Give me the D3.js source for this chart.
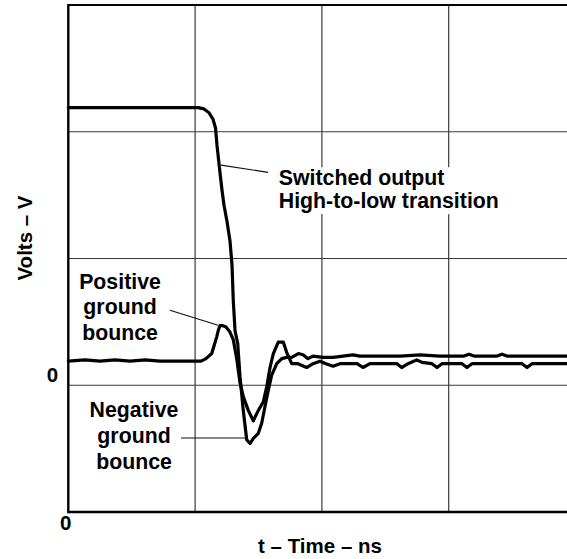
<!DOCTYPE html>
<html>
<head>
<meta charset="utf-8">
<script src="https://cdn.jsdelivr.net/npm/d3@7"></script>
<style>
  html, body { margin: 0; padding: 0; background: #fff; }
  svg { display: block; }
  text { font-family: "Liberation Sans", Arial, Helvetica, sans-serif; font-weight: bold; fill: #000; }
</style>
</head>
<body>
<svg id="chart" width="567" height="559"></svg>
<script>
// ---- data (time in ns, volts) ----
const xTicks = [0];
const yTicks = [0];
const xGrid = [10, 20, 30];
const yGrid = [0, 1, 2];
const xTitle = "t – Time – ns";
const yTitle = "Volts – V";

const switchedT = [0, 10.23, 10.70, 11.10, 11.41, 11.61, 11.73, 11.85, 11.96, 12.12, 12.28, 12.52, 12.75, 12.91, 13.01, 13.15, 13.36, 13.54, 13.80, 14.07, 14.33, 14.59, 14.98, 15.25, 15.51, 15.77, 16.04, 16.44, 16.83, 17.22, 17.62, 18.14, 18.51, 18.90, 19.30, 20.09, 20.88, 22.45, 23.00, 26.16, 27.74, 29.31, 31.21, 31.60, 32.00, 33.81, 34.20, 34.60, 40];
const switchedV = [2.19, 2.19, 2.18, 2.15, 2.10, 2.03, 1.89, 1.78, 1.68, 1.54, 1.42, 1.29, 1.14, 0.95, 0.67, 0.43, 0.33, 0.07, -0.20, -0.43, -0.46, -0.42, -0.38, -0.30, -0.17, -0.04, 0.08, 0.17, 0.21, 0.22, 0.22, 0.25, 0.24, 0.21, 0.23, 0.22, 0.22, 0.24, 0.23, 0.23, 0.24, 0.23, 0.23, 0.245, 0.23, 0.23, 0.245, 0.23, 0.23];

const bounceT = [0, 1.32, 2.50, 3.68, 4.87, 6.05, 7.23, 8.41, 10.47, 10.86, 11.31, 11.49, 11.70, 11.85, 11.96, 12.20, 12.44, 12.75, 13.01, 13.28, 13.54, 13.80, 14.20, 14.59, 14.98, 15.38, 15.65, 15.91, 16.17, 16.56, 16.96, 17.22, 17.62, 18.11, 18.80, 19.30, 19.85, 20.32, 20.88, 21.43, 22.77, 23.24, 23.79, 25.92, 26.29, 26.79, 27.48, 27.89, 28.68, 29.08, 29.47, 31.05, 31.44, 31.84, 35.78, 36.18, 36.57, 40];
const bounceV = [0.19, 0.20, 0.19, 0.20, 0.19, 0.20, 0.19, 0.19, 0.19, 0.21, 0.25, 0.31, 0.38, 0.44, 0.47, 0.47, 0.46, 0.42, 0.36, 0.21, 0.02, -0.09, -0.20, -0.28, -0.20, -0.13, -0.01, 0.14, 0.25, 0.34, 0.34, 0.26, 0.17, 0.17, 0.14, 0.17, 0.19, 0.17, 0.15, 0.17, 0.17, 0.14, 0.17, 0.17, 0.14, 0.17, 0.20, 0.18, 0.17, 0.14, 0.17, 0.17, 0.14, 0.17, 0.17, 0.14, 0.17, 0.17];

const switchedLabel = ["Switched output", "High-to-low transition"];
const positiveLabel = ["Positive", "ground", "bounce"];
const negativeLabel = ["Negative", "ground", "bounce"];

// ---- scales ----
const svg = d3.select("#chart");
const x = d3.scaleLinear().domain([0, 40]).range([68.3, 575.5]);
const y = d3.scaleLinear().domain([-1, 3]).range([512, 5]);

// grid
svg.append("g").selectAll("line").data(xGrid).join("line")
  .attr("x1", d => x(d)).attr("x2", d => x(d))
  .attr("y1", y(3)).attr("y2", y(-1))
  .attr("stroke", "#3a3a3a").attr("stroke-width", 1.2);
svg.append("g").selectAll("line").data(yGrid).join("line")
  .attr("x1", x(0)).attr("x2", x(40))
  .attr("y1", d => y(d)).attr("y2", d => y(d))
  .attr("stroke", "#3a3a3a").attr("stroke-width", 1.2);

// frame: top, left, bottom
const frame = svg.append("g").attr("stroke", "#000").attr("fill", "none");
frame.append("line").attr("x1", x(0)).attr("x2", x(40)).attr("y1", y(3)).attr("y2", y(3)).attr("stroke-width", 2.2);
frame.append("line").attr("x1", x(0)).attr("x2", x(0)).attr("y1", y(3) - 1).attr("y2", y(-1) + 1.2).attr("stroke-width", 2.4);
frame.append("line").attr("x1", x(0)).attr("x2", x(40)).attr("y1", y(-1)).attr("y2", y(-1)).attr("stroke-width", 2.4);

// white box behind switched-output label
svg.append("rect")
  .attr("x", x(16.15)).attr("y", y(1.72))
  .attr("width", x(34.45) - x(16.15)).attr("height", y(1.35) - y(1.72))
  .attr("fill", "#fff");

// leader lines
const leaders = [
  [[12.04, 1.736], [15.75, 1.680]],
  [[8.02, 0.592], [11.81, 0.473]],
  [[8.89, -0.416], [13.94, -0.416]]
];
svg.append("g").selectAll("line").data(leaders).join("line")
  .attr("x1", d => x(d[0][0])).attr("y1", d => y(d[0][1]))
  .attr("x2", d => x(d[1][0])).attr("y2", d => y(d[1][1]))
  .attr("stroke", "#111").attr("stroke-width", 1.2);

// curves
const line = d3.line().x(d => x(d[0])).y(d => y(d[1])).curve(d3.curveLinear);
const switched = switchedT.map((t, i) => [t, switchedV[i]]);
const bounce = bounceT.map((t, i) => [t, bounceV[i]]);
[bounce, switched].forEach(data => {
  svg.append("path").datum(data).attr("d", line)
    .attr("fill", "none").attr("stroke", "#000")
    .attr("stroke-width", 3.2).attr("stroke-linejoin", "round").attr("stroke-linecap", "round");
});

// annotation text
const fs = 20.5;
const fa = 21.3;
const sw = svg.append("text").attr("font-size", fa);
switchedLabel.forEach((s, i) => {
  sw.append("tspan").attr("x", x(16.6)).attr("y", 185 + i * 23).text(s);
});
const pos = svg.append("text").attr("font-size", fa).attr("text-anchor", "middle");
positiveLabel.forEach((s, i) => {
  pos.append("tspan").attr("x", 120).attr("y", 288.5 + i * 25.5).text(s);
});
const neg = svg.append("text").attr("font-size", fa).attr("text-anchor", "middle");
negativeLabel.forEach((s, i) => {
  neg.append("tspan").attr("x", 134).attr("y", 416.5 + i * 26.3).text(s);
});

// tick labels
svg.append("g").selectAll("text").data(yTicks).join("text")
  .attr("font-size", fs).attr("text-anchor", "middle")
  .attr("x", 52.5).attr("y", d => y(d) - 3).text(d => d);
svg.append("g").selectAll("text").data(xTicks).join("text")
  .attr("font-size", fs).attr("text-anchor", "middle")
  .attr("x", d => x(d) - 2.5).attr("y", 530).text(d => d);

// axis titles
svg.append("text").attr("font-size", fs).attr("text-anchor", "middle")
  .attr("x", 320).attr("y", 553).text(xTitle);
svg.append("text").attr("font-size", fs).attr("text-anchor", "middle")
  .attr("transform", "translate(32,238) rotate(-90)").text(yTitle);
</script>
</body>
</html>
